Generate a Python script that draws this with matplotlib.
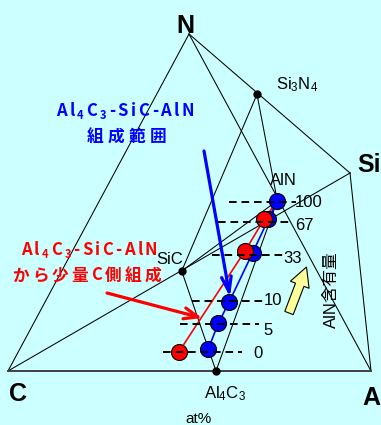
import matplotlib
matplotlib.use("Agg")
import matplotlib.pyplot as plt
from matplotlib.patches import FancyArrow, FancyArrowPatch

plt.rcParams['font.family'] = ['Liberation Sans', 'Noto Sans CJK JP', 'DejaVu Sans']
plt.rcParams['mathtext.default'] = 'regular'
plt.rcParams['lines.scale_dashes'] = False

# ---------------- data (diagram coordinates, y downward) ----------------
point_names = ['C', 'Al', 'Si', 'N', 'SiC', 'Al4C3', 'Si3N4', 'AlN']
point_x = [8, 371, 350, 189, 181.7, 216, 257, 277.3]
point_y = [371, 371, 173, 34, 271, 371, 94.3, 200.7]

edges = [('N', 'C'), ('N', 'Al'), ('N', 'Si'), ('Si', 'Al'), ('C', 'Si'),
         ('SiC', 'Si3N4'), ('Si3N4', 'AlN'), ('SiC', 'Al4C3'),
         ('SiC', 'AlN'), ('Al4C3', 'AlN')]
base_edge = ('C', 'Al')
dot_names = ['Si3N4', 'SiC', 'Al4C3']

level_labels = ['100', '67', '33', '10', '5', '0']
level_y = [202, 222, 255, 301, 324.3, 351.7]
dash_x0 = [229, 218, 212, 192, 180, 163]
dash_x1 = [296, 293, 283, 266, 259, 242]
label_x = [295, 295, 283, 264, 263, 253]
label_base = [207, 230, 263, 305, 335, 358]

blue_levels = ['0', '5', '10', '33', '67', '100']
blue_x = [208.3, 218.3, 229.3, 252.7, 268.3, 277.3]
blue_y = [349.0, 323.3, 301.7, 252.7, 219.3, 200.7]

red_levels = ['0', '33', '67']
red_x = [179.0, 245.3, 264.3]
red_y = [351.7, 250.5, 219.0]

BG = '#CCFFFF'
W, H = 381, 425

fig = plt.figure(figsize=(W / 100, H / 100), dpi=100, facecolor=BG)
ax = fig.add_axes([0, 0, 1, 1])
ax.set_xlim(0, W)
ax.set_ylim(H, 0)
ax.axis('off')
ax.set_facecolor(BG)

P = {n: (x, y) for n, x, y in zip(point_names, point_x, point_y)}

# tetrahedron edges and tie lines
for a, b in edges:
    ax.plot([P[a][0], P[b][0]], [P[a][1], P[b][1]], color='black', lw=0.75, zorder=1)
ax.plot([P[base_edge[0]][0], P[base_edge[1]][0]], [P[base_edge[0]][1], P[base_edge[1]][1]],
        color='#404040', lw=1.4, zorder=1)
ax.plot([P[n][0] for n in dot_names], [P[n][1] for n in dot_names], 'o', color='black',
        ms=5, zorder=5, ls='none')

# composition lines
ax.plot(blue_x, blue_y, color='#0000FF', lw=1.2, zorder=2)
ax.plot(red_x + [P['AlN'][0]], red_y + [P['AlN'][1]], color='#FF0000', lw=1.2, zorder=2)

# balls
ax.plot(blue_x, blue_y, 'o', ms=11.5, mfc='#0000FF', mec='black', mew=0.8, ls='none', zorder=3)
ax.plot(red_x, red_y, 'o', ms=11.5, mfc='#FF0000', mec='black', mew=0.8, ls='none', zorder=3.5)

# dashed level lines + labels
for lab, y, x0, x1, lx, lb in zip(level_labels, level_y, dash_x0, dash_x1, label_x, label_base):
    ax.plot([x0, x1], [y, y], color='black', lw=1.4, dashes=(5.5, 3.5), zorder=4)
    ax.text(lx, lb, lab, fontsize=12, ha='left', va='baseline', color='black', zorder=6)

# thick blue arrow
ax.add_patch(FancyArrowPatch((204, 151), (230, 297), arrowstyle='->,head_length=11,head_width=3.5',
                             mutation_scale=1, color='#0000FF', lw=2.3, zorder=2.5,
                             shrinkA=0, shrinkB=0))
# red arrow
ax.add_patch(FancyArrowPatch((107, 293), (202, 318), arrowstyle='->,head_length=10,head_width=4',
                             mutation_scale=1, color='#FF0000', lw=2.3, zorder=2.5,
                             shrinkA=0, shrinkB=0))
# yellow arrow
ax.add_patch(FancyArrow(289, 313, 17.5, -46, width=9, head_width=20, head_length=19,
                        length_includes_head=True, fc='#FFFF99', ec='black', lw=0.8, zorder=5))

# vertex labels
ax.text(176.5, 33, 'N', fontsize=18, fontweight='bold', ha='left', va='baseline')
ax.text(357, 172, 'Si', fontsize=18, fontweight='bold', ha='left', va='baseline')
ax.text(9, 401, 'C', fontsize=18, fontweight='bold', ha='left', va='baseline')
ax.text(362.5, 405, 'A', fontsize=18, fontweight='bold', ha='left', va='baseline')

# compound labels
ax.text(276, 89, 'Si$_3$N$_4$', fontsize=12, ha='left', va='baseline')
ax.text(269.5, 185, 'AlN', fontsize=12, ha='left', va='baseline')
ax.text(156, 264.5, 'SiC', fontsize=12, ha='left', va='baseline')
ax.text(204.5, 398, 'Al$_4$C$_3$', fontsize=12, ha='left', va='baseline')
ax.text(199, 423, 'at%', fontsize=11, ha='center', va='baseline')
ax.text(331, 289.5, 'AlN含有量', fontsize=12, rotation=90, ha='center', va='center',
        family=['Liberation Sans', 'Noto Sans CJK JP'])

# letter-spaced bold Japanese labels
renderer = fig.canvas.get_renderer()


def tokens(s):
    out, sub = [], False
    for ch in s:
        if ch == '_':
            sub = True
            continue
        out.append((ch, sub))
        sub = False
    return out


def spaced_line(s, x_left, x_right, baseline, color, size=12, subsize=8, subdrop=3):
    objs = []
    for ch, sub in tokens(s):
        t = ax.text(0, baseline + (subdrop if sub else 0), ch, fontsize=subsize if sub else size,
                    color=color, fontweight='bold', family=['Noto Sans CJK JP'],
                    ha='left', va='baseline', zorder=6)
        objs.append(t)
    widths = [t.get_window_extent(renderer).width for t in objs]
    gap = (x_right - x_left - sum(widths)) / max(len(objs) - 1, 1)
    x = x_left
    for t, w in zip(objs, widths):
        t.set_x(x)
        x += w + gap


spaced_line('Al_4C_3-SiC-AlN', 56, 194, 115.7, '#0000FF')
spaced_line('組成範囲', 86.5, 166.5, 142, '#0000FF')
spaced_line('Al_4C_3-SiC-AlN', 21, 157.5, 255, '#FF0000')
spaced_line('から少量C側組成', 12.5, 161, 280.5, '#FF0000')

fig.savefig('out.png', dpi=100, facecolor=BG)
